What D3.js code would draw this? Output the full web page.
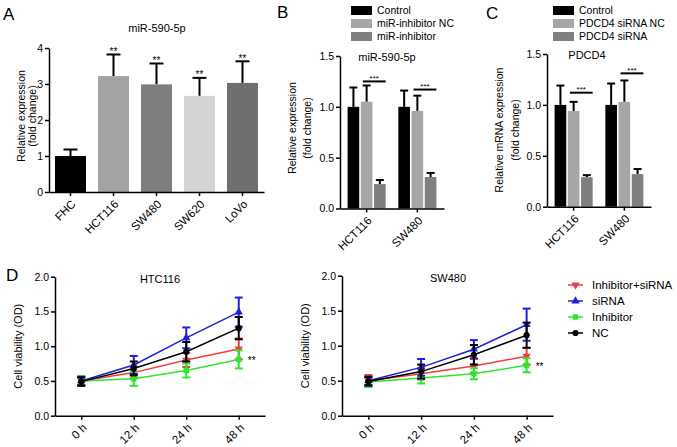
<!DOCTYPE html>
<html>
<head>
<meta charset="utf-8">
<script src="https://cdn.jsdelivr.net/npm/d3@7"></script>
<style>
    body { margin: 0; background: #fff; }
    svg { display: block; font-family: "Liberation Sans", Arial, sans-serif; }
    .axis path, .axis line { stroke: #000; stroke-width: 1.5; }
    .axis text { font-size: 10.5px; fill: #000; font-family: "Liberation Sans", Arial, sans-serif; }
    .axis.x text { font-size: 11.5px; }
</style>
</head>
<body>
<svg id="chart" width="677" height="447"></svg>
<script>
// ---- panel A: miR-590-5p in cell lines
const aCategories = ["FHC", "HCT116", "SW480", "SW620", "LoVo"];
const aValues = [1.0, 3.22, 2.99, 2.67, 3.03];
const aErrors = [0.18, 0.60, 0.58, 0.50, 0.60];
const aTicks = [0, 1, 2, 3, 4];
const aColors = ["#000000", "#a3a3a6", "#7e7e7e", "#d4d4d4", "#6f6f6f"];

// ---- panel B: miR-590-5p after inhibitor
const bGroups = ["HCT116", "SW480"];
const bSeries = ["Control", "miR-inhibitor NC", "miR-inhibitor"];
const bValues = [[1.0, 1.05, 0.24], [1.0, 0.96, 0.31]];
const bErrors = [[0.19, 0.16, 0.04], [0.16, 0.15, 0.04]];

// ---- panel C: PDCD4 after siRNA
const cGroups = ["HCT116", "SW480"];
const cSeries = ["Control", "PDCD4 siRNA NC", "PDCD4 siRNA"];
const cValues = [[1.0, 0.94, 0.29], [1.0, 1.03, 0.32]];
const cErrors = [[0.19, 0.09, 0.02], [0.21, 0.21, 0.05]];

const groupTicks = [0, 0.5, 1.0, 1.5];
const groupColors = ["#000000", "#a6a6a8", "#7f7f7f"];

// ---- panel D: cell viability
const timePoints = ["0 h", "12 h", "24 h", "48 h"];
const dSeries = ["Inhibitor+siRNA", "siRNA", "Inhibitor", "NC"];
const dColors = ["#f23b3b", "#1f1fe0", "#2ee62e", "#000000"];
const hctValues = [
    [0.50, 0.62, 0.80, 0.96],
    [0.50, 0.73, 1.12, 1.49],
    [0.50, 0.53, 0.65, 0.81],
    [0.49, 0.68, 0.92, 1.26]
];
const hctErrors = [
    [0.06, 0.08, 0.10, 0.15],
    [0.06, 0.13, 0.15, 0.21],
    [0.07, 0.10, 0.10, 0.13],
    [0.06, 0.10, 0.14, 0.16]
];
const swValues = [
    [0.50, 0.60, 0.71, 0.85],
    [0.50, 0.69, 0.95, 1.30],
    [0.48, 0.54, 0.60, 0.72],
    [0.49, 0.63, 0.87, 1.15]
];
const swErrors = [
    [0.08, 0.08, 0.10, 0.12],
    [0.06, 0.12, 0.13, 0.23],
    [0.07, 0.08, 0.08, 0.10],
    [0.06, 0.10, 0.14, 0.18]
];
const dTicks = [0, 0.5, 1.0, 1.5, 2.0];

const svg = d3.select("#chart");

function panelLabel(text, x, y)
{
    svg.append("text")
        .attr("x", x).attr("y", y)
        .attr("font-size", 17)
        .text(text);
}

function title(text, x, y)
{
    svg.append("text")
        .attr("x", x).attr("y", y)
        .attr("text-anchor", "middle")
        .attr("font-size", 11)
        .text(text);
}

// rotated y axis title, one or two lines
function yTitle(lines, xs, cy, size)
{
    lines.forEach((line, i) => {
        svg.append("text")
            .attr("transform", `translate(${xs[i]}, ${cy}) rotate(-90)`)
            .attr("text-anchor", "middle")
            .attr("font-size", size)
            .text(line);
    });
}

function rotateTickLabels(axisG)
{
    axisG.classed("x", true)
        .selectAll(".tick text")
        .attr("text-anchor", "end")
        .attr("x", 0).attr("y", 0).attr("dy", "0.35em")
        .attr("transform", "translate(3, 10) rotate(-45)");
}

function drawYAxis(x, yScale, ticks, fmt)
{
    svg.append("g")
        .attr("class", "axis")
        .attr("transform", `translate(${x}, 0)`)
        .call(d3.axisLeft(yScale).tickValues(ticks).tickFormat(fmt)
            .tickSize(4).tickSizeOuter(0).tickPadding(2));
}

function upperError(x, yTop, yEnd, capW)
{
    svg.append("line")
        .attr("x1", x).attr("x2", x)
        .attr("y1", yTop).attr("y2", yEnd)
        .attr("stroke", "#000").attr("stroke-width", 2);
    svg.append("line")
        .attr("x1", x - capW / 2).attr("x2", x + capW / 2)
        .attr("y1", yEnd).attr("y2", yEnd)
        .attr("stroke", "#000").attr("stroke-width", 2);
}

// ---------------- panel A ----------------
{
    const xScale = d3.scaleBand()
        .domain(aCategories)
        .range([49, 264])
        .paddingInner(0.28)
        .paddingOuter(0.14);
    const yScale = d3.scaleLinear().domain([0, 4]).range([192, 48]);

    aCategories.forEach((c, i) => {
        const cx = xScale(c) + xScale.bandwidth() / 2;
        upperError(cx, yScale(aValues[i]), yScale(aValues[i] + aErrors[i]), 14);
        svg.append("rect")
            .attr("x", xScale(c))
            .attr("y", yScale(aValues[i]))
            .attr("width", xScale.bandwidth())
            .attr("height", yScale(0) - yScale(aValues[i]))
            .attr("fill", aColors[i]);
        if (i > 0)
        {
            svg.append("text")
                .attr("x", cx).attr("y", yScale(aValues[i] + aErrors[i]) + 0.5)
                .attr("text-anchor", "middle")
                .attr("font-size", 10)
                .text("**");
        }
    });

    drawYAxis(49, yScale, aTicks, d3.format("d"));
    const xg = svg.append("g")
        .attr("class", "axis")
        .attr("transform", `translate(0, ${yScale(0)})`)
        .call(d3.axisBottom(xScale).tickSize(4).tickSizeOuter(0));
    rotateTickLabels(xg);

    panelLabel("A", 3, 20);
    title("miR-590-5p", 157, 32);
    yTitle(["Relative expression", "(fold change)"], [25, 36], 116, 10.5);
}

// ---------------- panels B and C ----------------
function groupedPanel(o)
{
    const x0 = d3.scaleBand()
        .domain(o.groups)
        .range(o.xRange)
        .paddingInner(0.25)
        .paddingOuter(0.15);
    const x1 = d3.scaleBand()
        .domain(o.series)
        .range([0, x0.bandwidth()])
        .paddingInner(0.12);
    const yScale = d3.scaleLinear().domain([0, 1.5]).range(o.yRange);

    o.groups.forEach((g, gi) => {
        o.series.forEach((s, si) => {
            const v = o.values[gi][si];
            const bx = x0(g) + x1(s);
            upperError(bx + x1.bandwidth() / 2, yScale(v), yScale(v + o.errors[gi][si]), 8);
            svg.append("rect")
                .attr("x", bx)
                .attr("y", yScale(v))
                .attr("width", x1.bandwidth())
                .attr("height", yScale(0) - yScale(v))
                .attr("fill", groupColors[si]);
        });
        // significance bracket between NC and treated bars
        const sx1 = x0(g) + x1(o.series[1]) + 2;
        const sx2 = x0(g) + x1(o.series[2]) + x1.bandwidth();
        const sy = yScale(o.sigLevels[gi]);
        svg.append("line")
            .attr("x1", sx1).attr("x2", sx2)
            .attr("y1", sy).attr("y2", sy)
            .attr("stroke", "#000").attr("stroke-width", 2);
        svg.append("text")
            .attr("x", (sx1 + sx2) / 2).attr("y", sy - 0.5)
            .attr("text-anchor", "middle")
            .attr("font-size", 8)
            .text("***");
    });

    drawYAxis(o.xRange[0], yScale, groupTicks, d3.format(".1f"));
    const xg = svg.append("g")
        .attr("class", "axis")
        .attr("transform", `translate(0, ${yScale(0)})`)
        .call(d3.axisBottom(x0).tickSize(4).tickSizeOuter(0));
    rotateTickLabels(xg);

    // legend
    o.series.forEach((s, si) => {
        const ly = o.legendY + si * 13;
        svg.append("rect")
            .attr("x", o.legendX).attr("y", ly - 4)
            .attr("width", 21).attr("height", 9)
            .attr("fill", groupColors[si]);
        svg.append("text")
            .attr("x", o.legendX + 26).attr("y", ly + 4)
            .attr("font-size", 10.5)
            .text(s);
    });

    panelLabel(o.label, o.labelX, o.labelY);
    title(o.title, o.titleX, o.yRange[1] + 5);
    yTitle(o.yTitle, o.yTitleX, o.yTitleY, 10.5);
}

groupedPanel({
    groups: bGroups, series: bSeries, values: bValues, errors: bErrors,
    sigLevels: [1.25, 1.17],
    xRange: [340, 444], yRange: [208.5, 56],
    legendX: 351, legendY: 10,
    label: "B", labelX: 277, labelY: 18,
    title: "miR-590-5p", titleX: 387,
    yTitle: ["Relative expression", "(fold change)"], yTitleX: [296, 311], yTitleY: 128
});

groupedPanel({
    groups: cGroups, series: cSeries, values: cValues, errors: cErrors,
    sigLevels: [1.12, 1.31],
    xRange: [547, 651], yRange: [206.7, 54],
    legendX: 553, legendY: 10,
    label: "C", labelX: 486, labelY: 19,
    title: "PDCD4", titleX: 587,
    yTitle: ["Relative mRNA expression", "(fold change)"], yTitleX: [503, 519], yTitleY: 130
});

// ---------------- panel D ----------------
const symbolTypes = [d3.symbolTriangle, d3.symbolTriangle, d3.symbolSquare, d3.symbolCircle];
const symbolRotate = [180, 0, 0, 0];

function marker(g, x, y, si)
{
    g.append("path")
        .attr("d", d3.symbol().type(symbolTypes[si]).size(30)())
        .attr("transform", `translate(${x}, ${y}) rotate(${symbolRotate[si]})`)
        .attr("fill", dColors[si]);
}

function linePanel(o)
{
    const xScale = d3.scalePoint().domain(timePoints).range(o.xRange).padding(0.5);
    const yScale = d3.scaleLinear().domain([0, 2]).range(o.yRange);
    const g = svg.append("g");

    const order = [0, 2, 1, 3];
    order.forEach((si) => {
        const vals = o.values[si];
        const errs = o.errors[si];
        g.append("path")
            .datum(vals)
            .attr("d", d3.line()
                .x((d, i) => xScale(timePoints[i]))
                .y((d) => yScale(d)))
            .attr("fill", "none")
            .attr("stroke", dColors[si])
            .attr("stroke-width", 1.5);

        vals.forEach((v, i) => {
            const x = xScale(timePoints[i]);
            const y1 = yScale(v + errs[i]);
            const y2 = yScale(v - errs[i]);
            g.append("line")
                .attr("x1", x).attr("x2", x).attr("y1", y1).attr("y2", y2)
                .attr("stroke", dColors[si]).attr("stroke-width", 2);
            [y1, y2].forEach((yy) => {
                g.append("line")
                    .attr("x1", x - 4).attr("x2", x + 4).attr("y1", yy).attr("y2", yy)
                    .attr("stroke", dColors[si]).attr("stroke-width", 2);
            });
            marker(g, x, yScale(v), si);
        });
    });

    // ** next to the last inhibitor point
    svg.append("text")
        .attr("x", xScale(timePoints[3]) + 9)
        .attr("y", yScale(o.values[2][3]) + 5)
        .attr("font-size", 10)
        .text("**");

    drawYAxis(o.xRange[0], yScale, dTicks, d3.format(".1f"));
    const xg = svg.append("g")
        .attr("class", "axis")
        .attr("transform", `translate(0, ${yScale(0)})`)
        .call(d3.axisBottom(xScale).tickSize(4).tickSizeOuter(0));
    rotateTickLabels(xg);

    title(o.title, o.titleX, o.yRange[1] + 6);
    yTitle(["Cell viability (OD)"], [o.yTitleX], (o.yRange[0] + o.yRange[1]) / 2, 11);
}

linePanel({
    values: hctValues, errors: hctErrors,
    xRange: [55, 265], yRange: [415.7, 276.7],
    title: "HTC116", titleX: 160, yTitleX: 22
});

linePanel({
    values: swValues, errors: swErrors,
    xRange: [342, 553], yRange: [415.7, 275.7],
    title: "SW480", titleX: 448, yTitleX: 309
});

panelLabel("D", 6, 281);

// legend for D
dSeries.forEach((s, si) => {
    const ly = 285 + si * 16;
    svg.append("line")
        .attr("x1", 568).attr("x2", 583).attr("y1", ly).attr("y2", ly)
        .attr("stroke", dColors[si]).attr("stroke-width", 1.5);
    marker(svg, 575.5, ly, si);
    svg.append("text")
        .attr("x", 592).attr("y", ly + 4)
        .attr("font-size", 11.5)
        .text(s);
});
</script>
</body>
</html>
